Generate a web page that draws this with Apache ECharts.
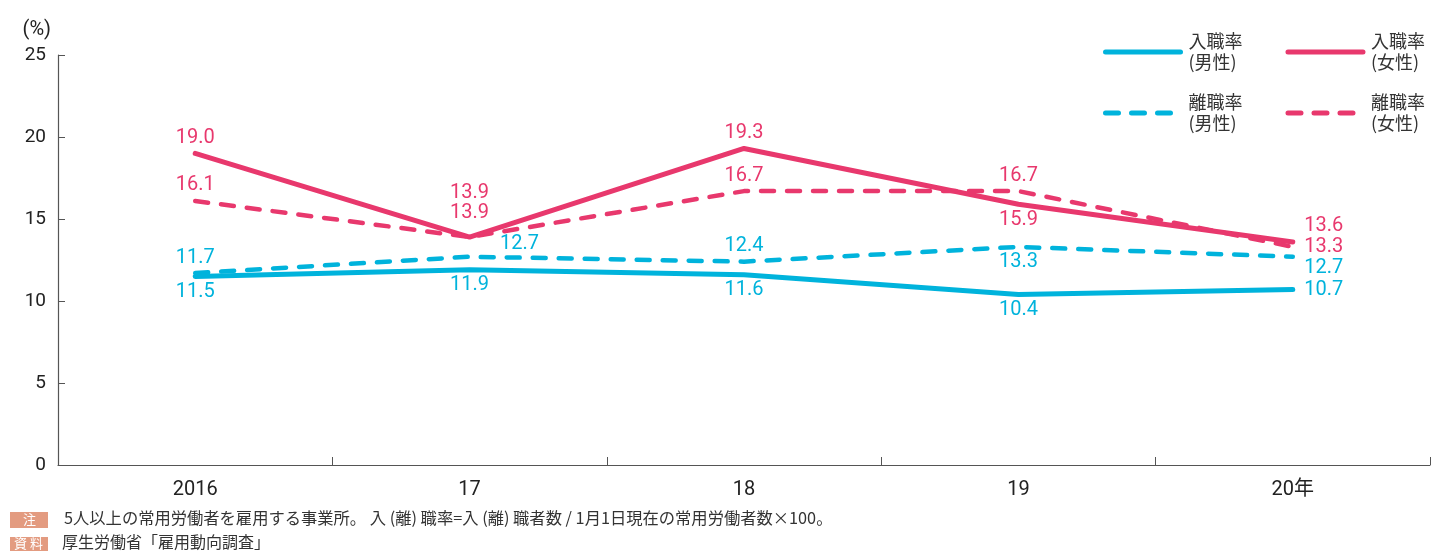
<!DOCTYPE html>
<html>
<head>
<meta charset="utf-8">
<script src="https://cdn.jsdelivr.net/npm/echarts@6/dist/echarts.min.js"></script>
<style>
html,body{margin:0;padding:0;background:#fff;}
#c{width:1435px;height:551px;}
</style>
</head>
<body>
<div id="c"></div>
<script>
// ---- data ----
const categories = ['2016', '17', '18', '19', '20年'];
const hireMale = [11.5, 11.9, 11.6, 10.4, 10.7];     // 入職率(男性)
const hireFemale = [19.0, 13.9, 19.3, 15.9, 13.6];   // 入職率(女性)
const sepMale = [11.7, 12.7, 12.4, 13.3, 12.7];      // 離職率(男性)
const sepFemale = [16.1, 13.9, 16.7, 16.7, 13.3];    // 離職率(女性)
const yTicks = [0, 5, 10, 15, 20, 25];
const seriesNames = ['入職率\n(男性)', '入職率\n(女性)', '離職率\n(男性)', '離職率\n(女性)'];
const noteText = '5人以上の常用労働者を雇用する事業所。 入 (離) 職率=入 (離) 職者数 / 1月1日現在の常用労働者数×100。';
const sourceText = '厚生労働省「雇用動向調査」';

// ---- styles ----
const PINK = '#e8386d';
const CYAN = '#00b3dc';
const NUMFONT = 'Roboto, "Noto Sans CJK JP", sans-serif';
const JPFONT = '"Noto Sans CJK JP", sans-serif';

// label placement per point: [position, shiftX, shiftY, distance]
const placeHireMale = [['bottom',0,0,5],['bottom',0,0,5],['bottom',0,0,5],['bottom',0,0,5],['right',0,0,11]];
const placeHireFemale = [['top',0,0,5],['top',0,-9,5],['top',0,0,5],['bottom',0,0,5],['right',0,-16,11]];
const placeSepMale = [['top',0,0,5],['right',25,-13,5],['top',0,0,5],['bottom',0,0,5],['right',0,11,11]];
const placeSepFemale = [['top',0,0,5],['top',0,-29,5],['top',0,0,5],['top',0,0,5],['right',0,0,11]];

function build(values, place) {
  return values.map((v, i) => ({
    value: v,
    label: { position: place[i][0], distance: place[i][3] }
  }));
}

function mkSeries(name, values, place, color, dashed) {
  return {
    name: name,
    type: 'line',
    data: build(values, place),
    symbol: 'circle',
    symbolSize: 1,
    showSymbol: true,
    z: dashed ? 3 : 2,
    lineStyle: {
      color: color,
      width: dashed ? 4.5 : 5,
      type: dashed ? [13, 13] : 'solid',
      cap: 'round',
      join: 'round'
    },
    itemStyle: { color: 'rgba(0,0,0,0)', borderWidth: 0 },
    label: {
      show: true,
      color: color,
      fontSize: 20,
      fontFamily: NUMFONT,
      formatter: p => p.value.toFixed(1)
    },
    labelLayout: function (params) {
      const p = place[params.dataIndex];
      return { dx: p[1], dy: p[2], hideOverlap: false };
    },
    emphasis: { disabled: true },
    animation: false
  };
}

const chart = echarts.init(document.getElementById('c'), null, { renderer: 'canvas' });

const legendCommon = {
  left: 1098,
  orient: 'horizontal',
  itemWidth: 75,
  itemHeight: 20,
  itemGap: 43,
  selectedMode: false,
  lineStyle: { width: 5, cap: 'round' },
  itemStyle: { color: 'rgba(0,0,0,0)', borderWidth: 0 },
  textStyle: {
    fontSize: 18,
    lineHeight: 21,
    color: '#333',
    fontFamily: JPFONT,
    padding: [0, 0, 0, 3]
  }
};

chart.setOption({
  animation: false,
  grid: { left: 58, right: 5, top: 55, bottom: 86, containLabel: false },
  legend: [
    Object.assign({}, legendCommon, { top: 26, data: [seriesNames[0], seriesNames[1]] }),
    Object.assign({}, legendCommon, { top: 87, data: [seriesNames[2], seriesNames[3]] })
  ],
  xAxis: {
    type: 'category',
    data: categories,
    boundaryGap: true,
    axisLine: { lineStyle: { color: '#555', width: 1.2 } },
    axisTick: { show: true, inside: true, length: 8, lineStyle: { color: '#555' } },
    axisLabel: { fontSize: 20, color: '#222', margin: 15, fontFamily: NUMFONT }
  },
  yAxis: {
    type: 'value',
    min: yTicks[0],
    max: yTicks[yTicks.length - 1],
    interval: yTicks[1] - yTicks[0],
    name: '(%)',
    nameLocation: 'end',
    nameGap: 15,
    nameTextStyle: { fontSize: 20, color: '#222', fontFamily: NUMFONT, align: 'right', padding: [0, 7, 0, 0] },
    splitLine: { show: false },
    axisLine: { show: true, lineStyle: { color: '#555', width: 1.2 } },
    axisTick: { show: true, inside: true, length: 7, lineStyle: { color: '#555' } },
    axisLabel: { fontSize: 19, color: '#222', margin: 12, fontFamily: NUMFONT }
  },
  series: [
    mkSeries(seriesNames[0], hireMale, placeHireMale, CYAN, false),
    mkSeries(seriesNames[1], hireFemale, placeHireFemale, PINK, false),
    mkSeries(seriesNames[2], sepMale, placeSepMale, CYAN, true),
    mkSeries(seriesNames[3], sepFemale, placeSepFemale, PINK, true)
  ],
  graphic: [
    { type: 'rect', left: 10, top: 512, shape: { width: 38, height: 16 }, style: { fill: '#e39b80' } },
    { type: 'text', left: 23, top: 513, style: { text: '注', fill: '#fff', fontSize: 13, fontFamily: JPFONT } },
    { type: 'text', left: 64, top: 510, style: { text: noteText, fill: '#333', fontSize: 16.3, fontFamily: JPFONT } },
    { type: 'rect', left: 10, top: 537, shape: { width: 38, height: 16 }, style: { fill: '#e39b80' } },
    { type: 'text', left: 14, top: 537, style: { text: '資 料', fill: '#fff', fontSize: 13, fontFamily: JPFONT } },
    { type: 'text', left: 62, top: 534, style: { text: sourceText, fill: '#333', fontSize: 16, fontFamily: JPFONT } }
  ]
});
</script>
</body>
</html>
